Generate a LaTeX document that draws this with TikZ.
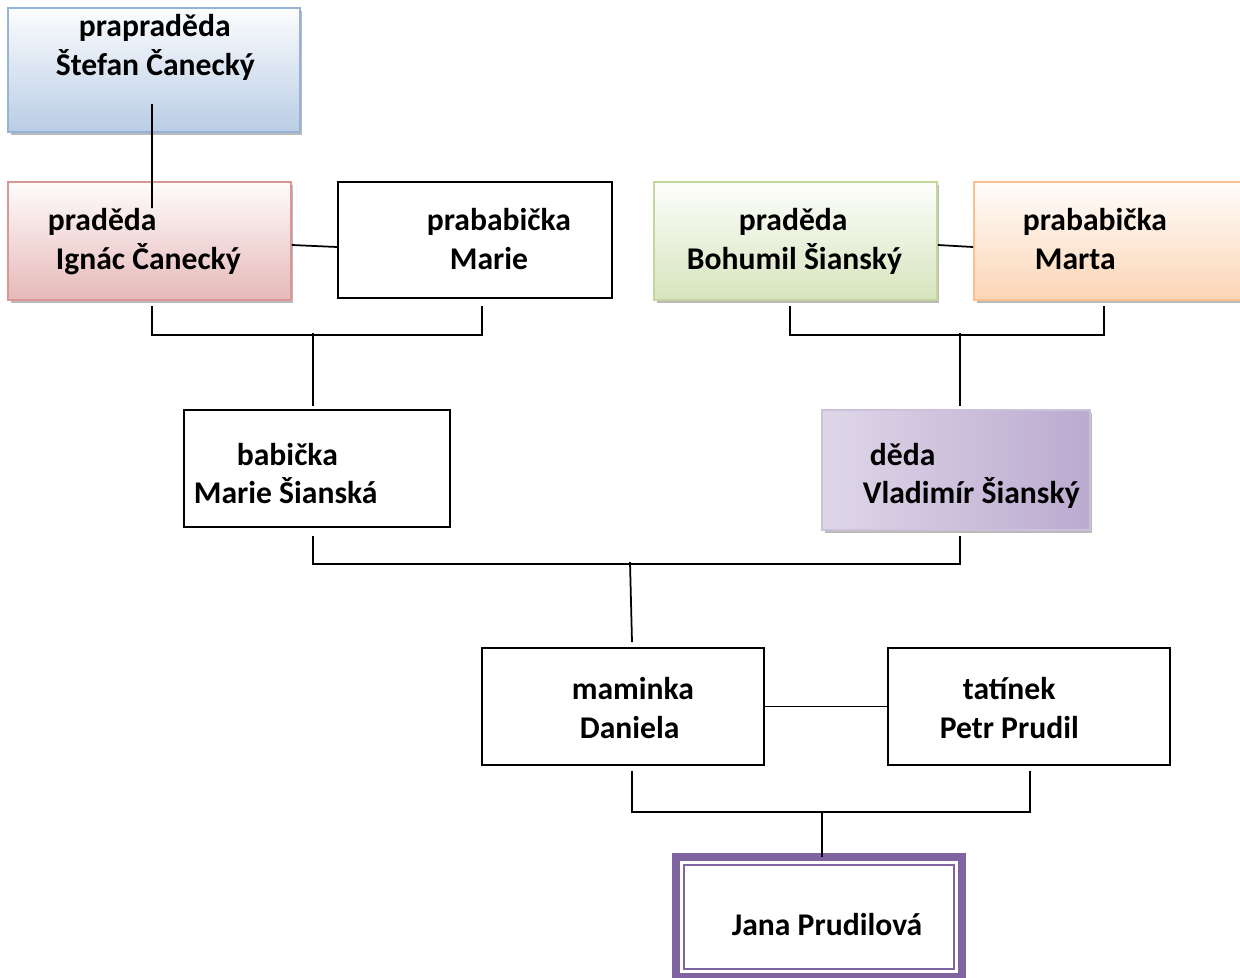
\documentclass[tikz,border=0pt]{standalone}
\usepackage{fontspec}
\setmainfont{Carlito}
\usetikzlibrary{shadows}
\definecolor{bluedraw}{HTML}{95B3D7}\definecolor{bluefill}{HTML}{B9CDE5}
\definecolor{reddraw}{HTML}{D99694}\definecolor{redfill}{HTML}{E6B9B8}
\definecolor{greendraw}{HTML}{C3D69B}\definecolor{greenfill}{HTML}{D7E4BD}
\definecolor{orangedraw}{HTML}{FAC090}\definecolor{orangefill}{HTML}{FCD5B5}
\definecolor{lilacdraw}{HTML}{CCC1DA}\definecolor{lilacfill}{HTML}{B7A6CD}
\definecolor{janadraw}{HTML}{8064A2}

\begin{document}
\begin{tikzpicture}[x=0.02cm,y=-0.02cm,line width=1pt,
  txt/.style={anchor=base west,inner sep=0pt,font=\bfseries\fontsize{18}{22}\selectfont},
  boxsize/.style 2 args={minimum width=#1cm,minimum height=#2cm,inner sep=0pt},
  plainbox/.style={draw,fill=white},
  wordbox/.style 2 args={draw=#1,line width=1.1pt,top color=white!95!#2,bottom color=#2,
    drop shadow={shadow xshift=0.05cm,shadow yshift=-0.06cm,fill=black!60,opacity=0.45}}]
\useasboundingbox (0,0) rectangle (1240,977);

\node[wordbox={bluedraw}{bluefill},boxsize={5.84}{2.48}] (ppd) at (154,70) {};
\node[wordbox={reddraw}{redfill},boxsize={5.66}{2.36}] (ignac) at (149.5,241) {};
\node[plainbox,boxsize={5.48}{2.32}] (marie) at (475,240) {};
\node[wordbox={greendraw}{greenfill},boxsize={5.66}{2.36}] (bohumil) at (795.5,241) {};
\node[wordbox={orangedraw}{orangefill},boxsize={5.36}{2.36}] (marta) at (1108,241) {};
\node[plainbox,boxsize={5.32}{2.34}] (babicka) at (317,468.5) {};
\node[draw=lilacdraw,line width=1.1pt,left color=lilacfill!45,middle color=lilacfill!22,right color=lilacfill!95,
  drop shadow={shadow xshift=0.05cm,shadow yshift=-0.06cm,fill=black!60,opacity=0.45},
  boxsize={5.36}{2.40}] (deda) at (956,470) {};
\node[plainbox,boxsize={5.64}{2.34}] (maminka) at (623,706.5) {};
\node[plainbox,boxsize={5.64}{2.34}] (tatinek) at (1029,706.5) {};
\node[draw=janadraw,line width=4.5pt,outer sep=0pt,boxsize={5.72}{2.40}] (jana) at (819,917) {};
\draw[janadraw,line width=1.1pt] ([shift={(8,8)}]jana.north west) rectangle ([shift={(-8,-8)}]jana.south east);

\node[txt] (ppd1) at (78,36) {prapraděda};
\node[txt] (ppd2) at (55,75) {Štefan Čanecký};
\node[txt] (ignac1) at (47,230) {praděda};
\node[txt] (ignac2) at (55,269) {Ignác Čanecký};
\node[txt] (marie1) at (426,230) {prababička};
\node[txt] (marie2) at (449,269) {Marie};
\node[txt] (bohumil1) at (738,230) {praděda};
\node[txt] (bohumil2) at (686,269) {Bohumil Šianský};
\node[txt] (marta1) at (1022,230) {prababička};
\node[txt] (marta2) at (1034,269) {Marta};
\node[txt] (babicka1) at (236,465) {babička};
\node[txt] (babicka2) at (193,503) {Marie Šianská};
\node[txt] (deda1) at (869,465) {děda};
\node[txt] (deda2) at (862,503) {Vladimír Šianský};
\node[txt] (maminka1) at (571,699) {maminka};
\node[txt] (maminka2) at (579,738) {Daniela};
\node[txt] (tatinek1) at (962,699) {tatínek};
\node[txt] (tatinek2) at (939,738) {Petr Prudil};
\node[txt] (jana1) at (731,935) {Jana Prudilová};

\draw ([shift={(-2,34)}]ppd.center) -- ([shift={(2.5,-33)}]ignac.center);
\draw ([shift={(0,4)}]ignac.east) -- ([shift={(0,7)}]marie.west);
\draw ([shift={(2.5,5)}]ignac.south) -- ++(0,29) -| ([shift={(7,7)}]marie.south);
\draw ([shift={(-4,-3)}]babicka.north) -- ++(0,-73);
\draw ([shift={(0,4)}]bohumil.east) -- ([shift={(0,6)}]marta.west);
\draw ([shift={(-5.5,5)}]bohumil.south) -- ++(0,29) -| ([shift={(-4,5)}]marta.south);
\draw ([shift={(4,-3)}]deda.north) -- ++(0,-73);
\draw ([shift={(-4,8)}]babicka.south) -- ++(0,28) -| ([shift={(4,5)}]deda.south);
\draw ([shift={(9,-5)}]maminka.north) -- ++(-2,-80);
\draw (maminka) -- (tatinek);
\draw ([shift={(9,5)}]maminka.south) -- ++(0,41) -| ([shift={(1,5)}]tatinek.south);
\draw ([shift={(3,0)}]jana.north) -- ++(0,-46);
\end{tikzpicture}
\end{document}
